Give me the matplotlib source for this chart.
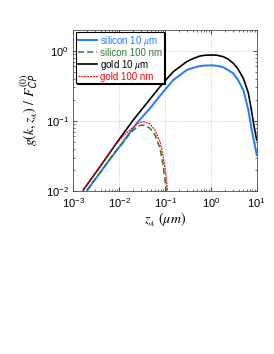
import numpy as np
import matplotlib
matplotlib.use("Agg")
import matplotlib.pyplot as plt

plt.rcParams['mathtext.fontset'] = 'stix'
plt.rcParams['font.family'] = ['Liberation Sans', 'DejaVu Sans']

# values (z in um, g / F_CP)
si10_z = [2.0e-3, 4.48e-3, 0.0122, 0.0240, 0.0468, 0.0914, 0.151, 0.296, 0.41,
          0.578, 0.74, 1.04, 1.36, 1.87, 2.36, 3.08, 3.91, 5.10, 6.56, 7.78,
          8.87, 10.0]
si10_g = [0.0103, 0.0211, 0.0505, 0.0925, 0.151, 0.261, 0.383, 0.532, 0.572,
          0.607, 0.617, 0.621, 0.612, 0.582, 0.532, 0.477, 0.383, 0.276, 0.143,
          0.0741, 0.0484, 0.0327]

si100_z = [2.0e-3, 4.48e-3, 8.05e-3, 0.01146, 0.01714, 0.0260, 0.0298, 0.0334,
           0.0393, 0.0468, 0.0603, 0.0775, 0.0887, 0.0995, 0.1062]
si100_g = [0.0103, 0.0211, 0.0360, 0.0468, 0.0665, 0.0846, 0.0865, 0.0870,
           0.0841, 0.0783, 0.0630, 0.0407, 0.0248, 0.0144, 0.0098]

au10_z = [1.64e-3, 3.79e-3, 0.01035, 0.0202, 0.0396, 0.0775, 0.11, 0.151, 0.296,
          0.41, 0.578, 0.74, 1.04, 1.36, 1.87, 2.36, 3.08, 3.91, 5.10, 6.56,
          7.78, 8.87, 10.0]
au10_g = [0.0103, 0.0222, 0.0565, 0.103, 0.178, 0.308, 0.40, 0.504, 0.70,
          0.776, 0.843, 0.865, 0.871, 0.866, 0.824, 0.764, 0.664, 0.55, 0.405,
          0.250, 0.134, 0.0793, 0.0535]

au100_z = [1.64e-3, 3.79e-3, 7.28e-3, 0.01146, 0.01866, 0.0260, 0.0298, 0.0334,
           0.0393, 0.0468, 0.0603, 0.0775, 0.0914, 0.1031, 0.1127]
au100_g = [0.0103, 0.0222, 0.041, 0.0589, 0.0783, 0.0924, 0.0958, 0.0974,
           0.0949, 0.0903, 0.0741, 0.0505, 0.0308, 0.0179, 0.0100]

blue = '#1f7bff'
green = '#2f7a34'

fig = plt.figure(figsize=(2.74, 3.54), dpi=100)
ax = fig.add_axes([0.268, 0.4605, 0.669, 0.4555])

ax.plot(si10_z, si10_g, '-', color=blue, lw=1.4, label=r'silicon 10 $\mu$m')
ax.plot(si100_z, si100_g, '--', color=green, lw=1.1, dashes=(4, 2), label='silicon 100 nm')
ax.plot(au10_z, au10_g, '-', color='black', lw=1.2, label=r'gold 10 $\mu$m')
ax.plot(au100_z, au100_g, color='red', lw=0.9, ls=(0, (1.5, 0.8)), label='gold 100 nm')

ax.set_xscale('log')
ax.set_yscale('log')
ax.set_xlim(1e-3, 10)
ax.set_ylim(1e-2, 2)
ax.set_xticks([1e-3, 1e-2, 1e-1, 1e0, 1e1])
ax.set_yticks([1e-2, 1e-1, 1e0])

ax.grid(True, which='major', ls=':', color='0.75', lw=0.6)
ax.tick_params(which='both', direction='in', top=True, right=True, labelsize=8)
ax.tick_params(which='major', length=3, width=0.5)
ax.tick_params(which='minor', length=1.5, width=0.4)
for s in ax.spines.values():
    s.set_linewidth(0.6)
    s.set_color('0.3')

ax.set_xlabel(r'$z_{_A}\ (\mu m)$', fontsize=10, labelpad=1)
ax.set_ylabel(r'$g(k,z_{_A})\ /\ F^{(0)}_{\mathsf{CP}}$', fontsize=10, labelpad=4)

leg = ax.legend(loc='upper left', bbox_to_anchor=(0.015, 0.985), fontsize=7,
                frameon=True, fancybox=False, borderpad=0.15, labelspacing=0.0,
                handlelength=2.0, handletextpad=0.3, borderaxespad=0.0,
                shadow={'color': 'black', 'alpha': 1.0, 'ox': 0.8, 'oy': -0.8})
leg.get_frame().set_edgecolor('black')
leg.get_frame().set_linewidth(0.8)
for txt, c in zip(leg.get_texts(), [blue, green, 'black', 'red']):
    txt.set_color(c)

fig.savefig('out.png', dpi=100)
